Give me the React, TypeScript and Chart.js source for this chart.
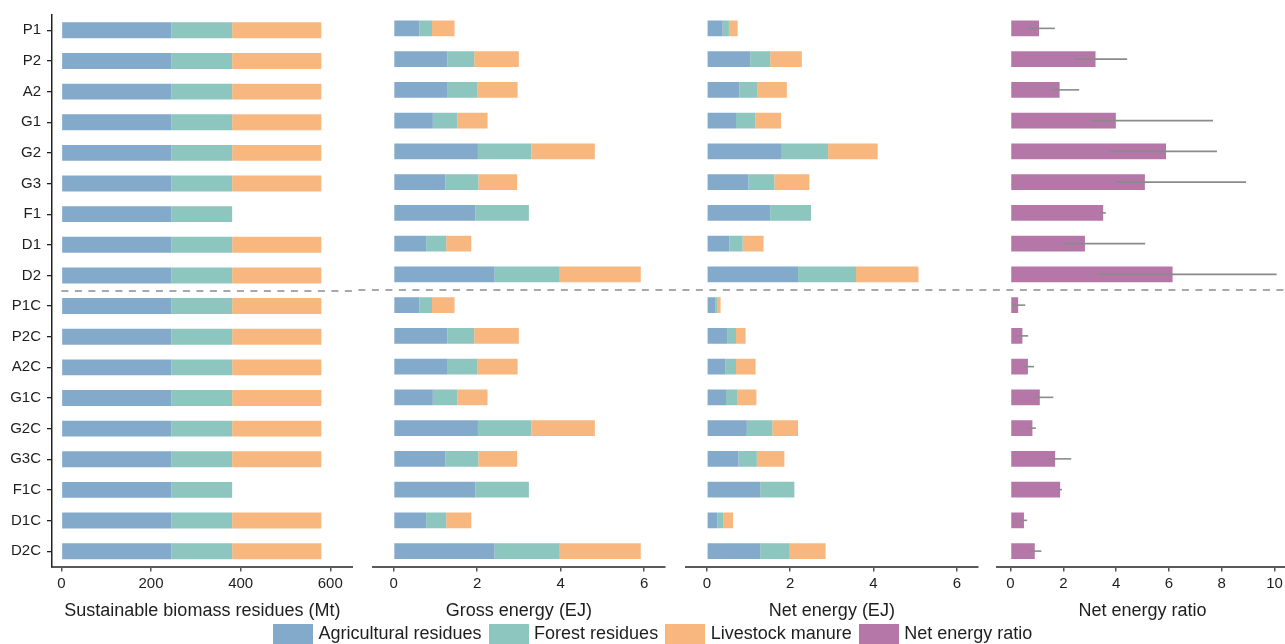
import React, { useEffect, useRef } from 'react';
import { Chart, registerables } from 'chart.js';

Chart.register(...registerables);

// ---------------- data ----------------
const categories = ['P1', 'P2', 'A2', 'G1', 'G2', 'G3', 'F1', 'D1', 'D2', 'P1C', 'P2C', 'A2C', 'G1C', 'G2C', 'G3C', 'F1C', 'D1C', 'D2C'];

// Sustainable biomass residues (Mt)
const biomassAgri = [245, 245, 245, 245, 245, 245, 245, 245, 245, 245, 245, 245, 245, 245, 245, 245, 245, 245];
const biomassForest = [136, 136, 136, 136, 136, 136, 136, 136, 136, 136, 136, 136, 136, 136, 136, 136, 136, 136];
const biomassManure = [199, 199, 199, 199, 199, 199, 0, 199, 199, 199, 199, 199, 199, 199, 199, 0, 199, 199];

// Gross energy (EJ)
const grossAgri = [0.62, 1.29, 1.28, 0.94, 2.02, 1.24, 1.96, 0.78, 2.42, 0.62, 1.29, 1.28, 0.94, 2.02, 1.24, 1.96, 0.78, 2.42];
const grossForest = [0.30, 0.64, 0.72, 0.59, 1.28, 0.79, 1.28, 0.48, 1.56, 0.30, 0.64, 0.72, 0.59, 1.28, 0.79, 1.28, 0.48, 1.56];
const grossManure = [0.54, 1.07, 0.97, 0.72, 1.52, 0.93, 0, 0.60, 1.94, 0.54, 1.07, 0.97, 0.72, 1.52, 0.93, 0, 0.60, 1.94];

// Net energy (EJ)
const netAgri = [0.38, 1.04, 0.78, 0.70, 1.78, 1.00, 1.52, 0.54, 2.19, 0.20, 0.50, 0.44, 0.46, 0.96, 0.76, 1.28, 0.25, 1.28];
const netForest = [0.15, 0.48, 0.44, 0.47, 1.13, 0.62, 0.98, 0.32, 1.39, 0.06, 0.20, 0.26, 0.28, 0.61, 0.44, 0.82, 0.14, 0.71];
const netManure = [0.21, 0.76, 0.70, 0.61, 1.19, 0.84, 0, 0.50, 1.50, 0.07, 0.23, 0.47, 0.45, 0.62, 0.66, 0, 0.24, 0.86];

// Net energy ratio with error range
const ratio = [1.08, 3.22, 1.86, 3.99, 5.89, 5.09, 3.51, 2.82, 6.14, 0.29, 0.45, 0.66, 1.11, 0.83, 1.69, 1.88, 0.51, 0.92];
const ratioLow = [0.67, 2.42, 1.53, 3.03, 3.77, 4.00, 3.36, 2.00, 3.30, 0.05, 0.23, 0.52, 0.91, 0.64, 1.43, 1.81, 0.37, 0.73];
const ratioHigh = [1.68, 4.42, 2.60, 7.67, 7.82, 8.92, 3.61, 5.10, 10.08, 0.56, 0.67, 0.89, 1.62, 0.96, 2.30, 1.95, 0.63, 1.17];

const biomassTicks = [0, 200, 400, 600];
const energyTicks = [0, 2, 4, 6];
const ratioTicks = [0, 2, 4, 6, 8, 10];

const seriesNames = ['Agricultural residues', 'Forest residues', 'Livestock manure', 'Net energy ratio'];

// ---------------- style ----------------
const FONT = '"Liberation Sans", Arial, Helvetica, sans-serif';
const TEXT = '#1e1e1e';
const COLORS = ['#83A9CB', '#8DC6BE', '#F7B77F', '#B577A8'];
const DASH_START_X = 61.4;
const DASH_ON = 7;
const DASH_PERIOD = 13.5;

function separatorPlugin(canvasLeft: number, startAtZero: boolean) {
  return {
    id: 'separator',
    afterDraw(chart: any) {
      const { ctx } = chart;
      const ys = chart.scales.y;
      const yy = Math.round((ys.getPixelForValue(8) + ys.getPixelForValue(9)) / 2);
      const x0 = startAtZero ? chart.scales.x.getPixelForValue(0) : 0;
      const x1 = chart.width;
      // phase-aligned dashes across all panels
      const pageX0 = canvasLeft + x0;
      const k = Math.floor((pageX0 - DASH_START_X) / DASH_PERIOD);
      let start = DASH_START_X + k * DASH_PERIOD - canvasLeft;
      ctx.save();
      ctx.strokeStyle = '#8c8c8c';
      ctx.lineWidth = 1.5;
      ctx.beginPath();
      for (; start < x1; start += DASH_PERIOD) {
        const a = Math.max(start, x0);
        const b = Math.min(start + DASH_ON, x1);
        if (b > a) {
          ctx.moveTo(a, yy);
          ctx.lineTo(b, yy);
        }
      }
      ctx.stroke();
      ctx.restore();
    },
  };
}

const errorBarPlugin = {
  id: 'errorBars',
  afterDatasetsDraw(chart: any) {
    const { ctx } = chart;
    const xs = chart.scales.x;
    const ys = chart.scales.y;
    ctx.save();
    ctx.strokeStyle = '#8a8a8a';
    ctx.lineWidth = 1.6;
    ratioLow.forEach((lo, i) => {
      const yy = ys.getPixelForValue(i);
      ctx.beginPath();
      ctx.moveTo(xs.getPixelForValue(lo), yy);
      ctx.lineTo(xs.getPixelForValue(ratioHigh[i]), yy);
      ctx.stroke();
    });
    ctx.restore();
  },
};

type PanelSpec = {
  left: number;
  width: number;
  padLeft: number;
  padRight: number;
  min: number;
  max: number;
  ticks: number[];
  title: string;
  showY: boolean;
  series: { name: string; data: number[]; color: string }[];
  errorBars?: boolean;
};

const panels: PanelSpec[] = [
  {
    left: 0, width: 353, padLeft: 0, padRight: 0.3, min: -21, max: 650, ticks: biomassTicks,
    title: 'Sustainable biomass residues (Mt)', showY: true,
    series: [
      { name: seriesNames[0], data: biomassAgri, color: COLORS[0] },
      { name: seriesNames[1], data: biomassForest, color: COLORS[1] },
      { name: seriesNames[2], data: biomassManure, color: COLORS[2] },
    ],
  },
  {
    left: 353, width: 323, padLeft: 19.7, padRight: 11, min: -0.5, max: 6.5, ticks: energyTicks,
    title: 'Gross energy (EJ)', showY: false,
    series: [
      { name: seriesNames[0], data: grossAgri, color: COLORS[0] },
      { name: seriesNames[1], data: grossForest, color: COLORS[1] },
      { name: seriesNames[2], data: grossManure, color: COLORS[2] },
    ],
  },
  {
    left: 676, width: 312, padLeft: 10, padRight: 10.3, min: -0.5, max: 6.5, ticks: energyTicks,
    title: 'Net energy (EJ)', showY: false,
    series: [
      { name: seriesNames[0], data: netAgri, color: COLORS[0] },
      { name: seriesNames[1], data: netForest, color: COLORS[1] },
      { name: seriesNames[2], data: netManure, color: COLORS[2] },
    ],
  },
  {
    left: 988, width: 310, padLeft: 9.3, padRight: 10.3, min: -0.5, max: 10.5, ticks: ratioTicks,
    title: 'Net energy ratio', showY: false,
    series: [{ name: seriesNames[3], data: ratio, color: COLORS[3] }],
    errorBars: true,
  },
];

function makeConfig(p: PanelSpec): any {
  const plugins: any[] = [separatorPlugin(p.left, p.showY)];
  if (p.errorBars) plugins.push(errorBarPlugin);
  return {
    type: 'bar',
    data: {
      labels: categories,
      datasets: p.series.map((s) => ({
        label: s.name,
        data: s.data,
        backgroundColor: s.color,
        borderWidth: 0,
        barPercentage: 0.52,
        categoryPercentage: 1,
      })),
    },
    options: {
      indexAxis: 'y',
      responsive: false,
      animation: false,
      layout: { padding: { left: p.padLeft, right: p.padRight, top: 13, bottom: 0 } },
      plugins: { legend: { display: false }, tooltip: { enabled: false } },
      scales: {
        x: {
          type: 'linear',
          stacked: true,
          min: p.min,
          max: p.max,
          afterBuildTicks: (s: any) => {
            s.ticks = p.ticks.map((v) => ({ value: v }));
          },
          afterFit: (s: any) => {
            s.height = 77.5;
          },
          ticks: {
            font: { family: FONT, size: 15 },
            color: TEXT,
            padding: 3,
            maxRotation: 0,
            autoSkip: false,
            callback: (v: any) => String(v),
          },
          grid: { display: true, drawOnChartArea: false, drawTicks: true, tickLength: 5, color: '#555', lineWidth: 1.5 },
          border: { display: true, color: '#5a5a5a', width: 2 },
          title: {
            display: true,
            text: p.title,
            font: { family: FONT, size: 18 },
            color: TEXT,
            padding: { top: 0, bottom: 22 },
          },
        },
        y: {
          type: 'category',
          stacked: true,
          offset: true,
          display: p.showY,
          afterFit: (s: any) => {
            s.width = p.showY ? 52 : 0;
          },
          ticks: { font: { family: FONT, size: 15 }, color: TEXT, padding: 6, autoSkip: false },
          grid: { display: true, offset: false, drawOnChartArea: false, drawTicks: true, tickLength: 5, color: '#222', lineWidth: 1.3 },
          border: { display: true, color: '#222', width: 1.5 },
        },
      },
    },
    plugins,
  };
}

function Panel({ spec }: { spec: PanelSpec }) {
  const ref = useRef<HTMLCanvasElement | null>(null);
  useEffect(() => {
    if (!ref.current) return;
    const chart = new Chart(ref.current, makeConfig(spec));
    return () => chart.destroy();
  }, [spec]);
  return (
    <canvas
      ref={ref}
      width={spec.width}
      height={644}
      style={{ position: 'absolute', left: spec.left, top: 0, width: spec.width, height: 644 }}
    />
  );
}

export default function App() {
  return (
    <div
      style={{
        position: 'fixed',
        left: 0,
        top: 0,
        width: 1285,
        height: 644,
        overflow: 'hidden',
        background: '#ffffff',
      }}
    >
      {panels.map((p, i) => (
        <Panel key={i} spec={p} />
      ))}
      <div
        style={{
          position: 'absolute',
          left: 273,
          top: 624,
          display: 'flex',
          alignItems: 'flex-start',
          fontFamily: FONT,
          fontSize: 18,
          lineHeight: '18px',
          color: TEXT,
          whiteSpace: 'nowrap',
        }}
      >
        {seriesNames.map((name, i) => (
          <div key={name} style={{ display: 'flex', alignItems: 'flex-start', marginRight: 7 }}>
            <div style={{ width: 40, height: 22, background: COLORS[i], marginRight: 5.5 }} />
            <span>{name}</span>
          </div>
        ))}
      </div>
    </div>
  );
}
